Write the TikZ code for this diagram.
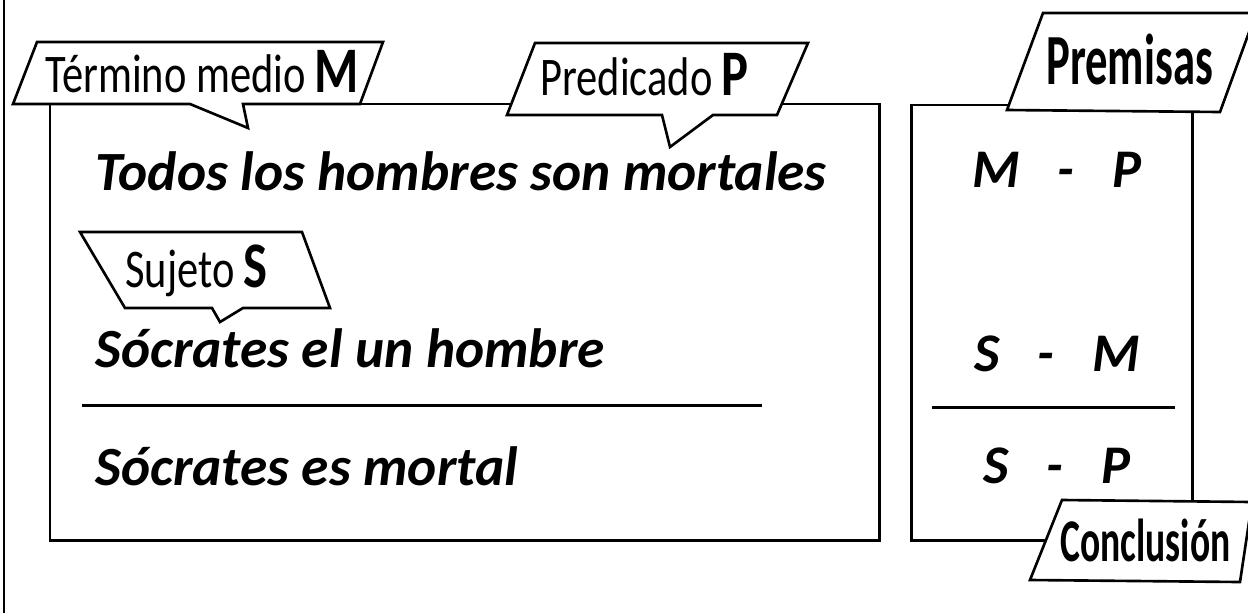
\documentclass[tikz,border=0pt]{standalone}
\usepackage{fontspec}
\setmainfont{Carlito}
\newfontfamily\tagfont[FakeStretch=0.78]{Carlito}
\newfontfamily\headfont[FakeStretch=0.62]{Carlito}
\usetikzlibrary{positioning}

\newcommand{\pairtxt}[2]{#1\hspace{.7em}-\hspace{.7em}#2}

\begin{document}
\begin{tikzpicture}[x=0.02cm, y=-0.02cm,
  frame/.style={draw, line width=1.7pt},
  tag/.style={draw, fill=white, line width=1.5pt, line join=miter},
  phrase/.style={font=\fontsize{31.5}{34}\selectfont\bfseries\itshape, anchor=base west, inner sep=0pt},
  formula/.style={font=\fontsize{31}{34}\selectfont\bfseries\itshape, anchor=base, inner sep=0pt},
  tagtext/.style={font=\tagfont\fontsize{31}{34}\selectfont, anchor=base west, inner sep=0pt},
  headtext/.style={font=\headfont\bfseries, anchor=base west, inner sep=0pt}]
\useasboundingbox (0,0) rectangle (1248,613);
% left border
\draw[line width=1.7pt] (4,0) -- (4,613);
% boxes
\draw[frame] (50,104) rectangle (879,540);
\draw[frame] (911,105) rectangle (1192,540);
% sentences
\node[phrase] (major) at (95,190) {Todos los hombres son mortales};
\node[phrase] (minor) at (95,367) {Sócrates el un hombre};
\node[phrase] (concl) at (95,485) {Sócrates es mortal};
\draw[line width=1.7pt] (82,405) -- (762,405);
% schema
\node[formula] (mp) at (1057,187) {\pairtxt{M}{P}};
\node[formula] (sm) at (1057,371) {\pairtxt{S}{M}};
\node[formula] (sp) at (1057,483) {\pairtxt{S}{P}};
\draw[line width=1.7pt] (932,407) -- (1175,407);
% callouts
\draw[tag] (37,42) -- (383,42) -- (360,104) -- (243,104) -- (248,128) -- (190,104) -- (13,104) -- cycle;
\node[tagtext] (termM) at (45,92) {Término medio\,{\fontsize{37}{40}\selectfont\bfseries M}};
\draw[tag] (535,43) -- (808,43) -- (777,115) -- (713,115) -- (670,147) -- (662,115) -- (507,115) -- cycle;
\node[tagtext] (predP) at (540,95) {Predicado\,{\fontsize{37}{40}\selectfont\bfseries P}};
\draw[tag] (80,232) -- (302,232) -- (330,308) -- (243,308) -- (220,322) -- (212,308) -- (125,308) -- cycle;
\node[tagtext] (sujS) at (125,287) {Sujeto\,{\fontsize{37}{40}\selectfont\bfseries S}};
\draw[tag] (1043,13) -- (1256,13) -- (1220,112) -- (1007,110) -- cycle;
\node[headtext, font=\headfont\fontsize{41}{44}\selectfont\bfseries] (prem) at (1046,84) {Premisas};
\draw[tag] (1062,500) -- (1252,502) -- (1240,582) -- (1030,580) -- cycle;
\node[headtext, font=\headfont\fontsize{34.5}{38}\selectfont\bfseries] (conc) at (1060,561) {Conclusión};
\end{tikzpicture}
\end{document}
